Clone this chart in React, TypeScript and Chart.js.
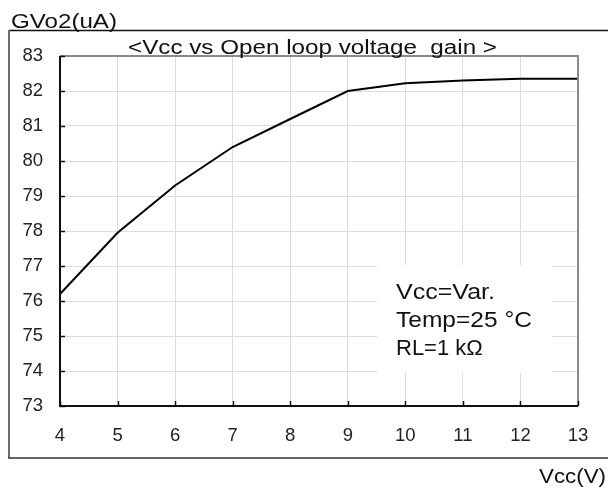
import React, { useEffect, useRef } from "react";
import { Chart, registerables } from "chart.js";

Chart.register(...registerables);

const vccValues = [4, 5, 6, 7, 8, 9, 10, 11, 12, 13];
const gainValues = [76.2, 77.95, 79.3, 80.4, 81.2, 82.0, 82.22, 82.3, 82.35, 82.35];
const yTicks = [73, 74, 75, 76, 77, 78, 79, 80, 81, 82, 83];
const xTicks = [4, 5, 6, 7, 8, 9, 10, 11, 12, 13];

const titleText = "<Vcc vs Open loop voltage  gain >";
const yAxisTitle = "GVo2(uA)";
const xAxisTitle = "Vcc(V)";
const noteLines = ["Vcc=Var.", "Temp=25 °C", "RL=1 kΩ"];

const FONT = '"Liberation Sans", Arial, sans-serif';

function drawScaledText(ctx: CanvasRenderingContext2D, text: string, x: number, y: number, size: number, targetWidth?: number) {
  ctx.save();
  ctx.font = `${size}px ${FONT}`;
  ctx.textBaseline = "alphabetic";
  ctx.textAlign = "left";
  const w = ctx.measureText(text).width;
  const sx = targetWidth ? targetWidth / w : 1;
  ctx.translate(x, y);
  ctx.scale(sx, 1);
  ctx.fillText(text, 0, 0);
  ctx.restore();
}

const decorPlugin = {
  id: "decor",
  beforeDraw(chart: any) {
    const ctx = chart.ctx as CanvasRenderingContext2D;
    ctx.save();
    ctx.fillStyle = "#ffffff";
    ctx.fillRect(0, 0, chart.width, chart.height);
    ctx.restore();
  },
  afterDatasetsDraw(chart: any) {
    const ctx = chart.ctx as CanvasRenderingContext2D;
    const { left, right, top, bottom } = chart.chartArea;
    const xs = chart.scales.x;
    const ys = chart.scales.y;
    ctx.save();
    // white note box
    ctx.fillStyle = "#ffffff";
    ctx.fillRect(377, 265, 175, 108);
    ctx.fillStyle = "#111111";
    noteLines.forEach((t, i) => {
      drawScaledText(ctx, t, 396, 299 + i * 28, 22, [99, 136, 0][i] || undefined);
    });
    // re-draw data line over? (line is under the box in reference? box is below line region)
    // plot border: top & right gray
    ctx.strokeStyle = "#8a8a8a";
    ctx.lineWidth = 2;
    ctx.beginPath();
    ctx.moveTo(left, top);
    ctx.lineTo(right, top);
    ctx.lineTo(right, bottom);
    ctx.stroke();
    // left & bottom black
    ctx.strokeStyle = "#111111";
    ctx.beginPath();
    ctx.moveTo(left, top);
    ctx.lineTo(left, bottom);
    ctx.lineTo(right, bottom);
    ctx.stroke();
    // inward ticks
    ctx.lineWidth = 1.5;
    xTicks.forEach((v) => {
      const px = Math.round(xs.getPixelForValue(v)) + 0.5;
      ctx.beginPath();
      ctx.moveTo(px, bottom);
      ctx.lineTo(px, bottom - 5);
      ctx.stroke();
    });
    yTicks.forEach((v) => {
      const py = Math.round(ys.getPixelForValue(v)) + 0.5;
      ctx.beginPath();
      ctx.moveTo(left, py);
      ctx.lineTo(left + 5, py);
      ctx.stroke();
    });
    // outer frame
    ctx.strokeStyle = "#111111";
    ctx.lineWidth = 1.5;
    ctx.beginPath();
    ctx.moveTo(608, 30.5);
    ctx.lineTo(9, 30.5);
    ctx.stroke();
    ctx.strokeStyle = "#6e6e6e";
    ctx.lineWidth = 2;
    ctx.beginPath();
    ctx.moveTo(9, 30);
    ctx.lineTo(9, 458);
    ctx.stroke();
    ctx.strokeStyle = "#333333";
    ctx.lineWidth = 1.5;
    ctx.beginPath();
    ctx.moveTo(8, 458);
    ctx.lineTo(608, 458);
    ctx.stroke();
    // texts
    ctx.fillStyle = "#111111";
    drawScaledText(ctx, yAxisTitle, 11, 28, 21, 106);
    drawScaledText(ctx, titleText, 128, 54, 19.5, 369);
    drawScaledText(ctx, xAxisTitle, 539, 483, 21, 67);
    ctx.restore();
  },
};

export default function App() {
  const ref = useRef<HTMLCanvasElement | null>(null);
  useEffect(() => {
    if (!ref.current) return;
    const chart = new Chart(ref.current, {
      type: "scatter",
      data: {
        datasets: [
          {
            data: vccValues.map((x, i) => ({ x, y: gainValues[i] })),
            showLine: true,
            borderColor: "#000000",
            borderWidth: 2,
            pointRadius: 0,
            tension: 0,
          },
        ],
      },
      options: {
        responsive: false,
        animation: false,
        devicePixelRatio: 1,
        layout: { padding: { left: 0, top: 56, right: 30, bottom: 0 } },
        plugins: { legend: { display: false }, tooltip: { enabled: false }, title: { display: false } },
        scales: {
          x: {
            type: "linear",
            min: 4,
            max: 13,
            afterBuildTicks: (s: any) => {
              s.ticks = xTicks.map((v) => ({ value: v }));
            },
            afterFit: (s: any) => {
              s.height = 85;
            },
            grid: { color: "#dcdcdc", lineWidth: 1, drawTicks: false },
            border: { display: false },
            ticks: {
              color: "#222222",
              font: { family: FONT, size: 18.5 },
              padding: 19,
              maxRotation: 0,
            },
          },
          y: {
            type: "linear",
            min: 73,
            max: 83,
            afterBuildTicks: (s: any) => {
              s.ticks = yTicks.map((v) => ({ value: v }));
            },
            afterFit: (s: any) => {
              s.width = 60;
            },
            grid: { color: "#dcdcdc", lineWidth: 1, drawTicks: false },
            border: { display: false },
            ticks: {
              color: "#222222",
              font: { family: FONT, size: 18.5 },
              padding: 17,
            },
          },
        },
      },
      plugins: [decorPlugin],
    });
    return () => chart.destroy();
  }, []);
  return (
    <div style={{ position: "absolute", left: 0, top: 0, width: 608, height: 491 }}>
      <canvas ref={ref} width={608} height={491} style={{ display: "block" }} />
    </div>
  );
}
